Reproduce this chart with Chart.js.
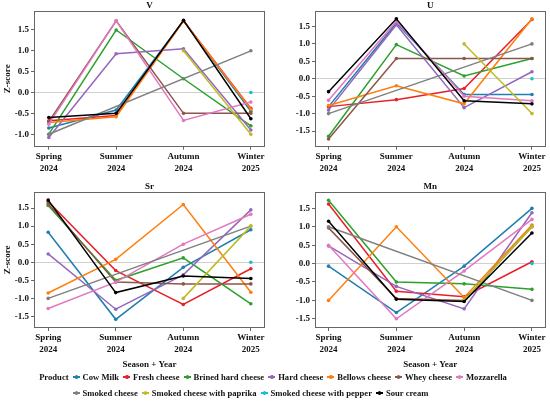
<!DOCTYPE html>
<html>
<head>
<meta charset="utf-8">
<script src="https://cdn.jsdelivr.net/npm/chart.js@4/dist/chart.umd.min.js"></script>
<style>
  html,body{margin:0;padding:0;background:#fff;}
  body{width:550px;height:402px;position:relative;overflow:hidden;font-family:"Liberation Serif","Times New Roman",serif;}
  .panel{position:absolute;}
  #legend{position:absolute;left:0;top:369px;width:550px;display:flex;justify-content:center;align-items:flex-start;font-weight:bold;font-size:8.6px;color:#111;}
  #legend .ttl{margin-right:4px;line-height:16px;}
  #legend .row{display:flex;line-height:16px;height:16px;}
  #legend .item{display:flex;align-items:center;margin-right:4px;}
  #legend .key{position:relative;width:7px;height:1.5px;margin-right:3px;}
  #legend .key i{position:absolute;left:2px;top:-1px;width:3.4px;height:3.4px;border-radius:50%;background:inherit;}
</style>
</head>
<body>
<div class="panel" style="left:0;top:0;width:275px;height:180px"><canvas id="cV"></canvas></div>
<div class="panel" style="left:275px;top:0;width:275px;height:180px"><canvas id="cU"></canvas></div>
<div class="panel" style="left:0;top:181px;width:275px;height:189px"><canvas id="cSr"></canvas></div>
<div class="panel" style="left:275px;top:181px;width:275px;height:189px"><canvas id="cMn"></canvas></div>
<div id="legend"></div>
<script>
// ---- data ----
const seasons = [["Spring","2024"],["Summer","2024"],["Autumn","2024"],["Winter","2025"]];
const products = ["Cow Milk","Fresh cheese","Brined hard cheese","Hard cheese","Bellows cheese","Whey cheese","Mozzarella","Smoked cheese","Smoked cheese with paprika","Smoked cheese with pepper","Sour cream"];
const productColors = ["#1f7fae","#e8202a","#2ca02c","#9467bd","#ff7f0e","#8c564b","#e377c2","#7f7f7f","#bcbd22","#17becf","#000000"];

// rows follow products order; columns follow seasons order
const vValues = [
  [-0.85,-0.42, 1.72,-0.45],
  [-0.68,-0.55, 1.72,-0.38],
  [-1.00, 1.50, 0.33,-0.80],
  [-1.08, 0.93, 1.05,-0.90],
  [-0.72,-0.58, 1.72,-0.40],
  [-0.70, 1.72,-0.50,-0.50],
  [-0.76, 1.72,-0.67,-0.23],
  [-1.00, null, null, 1.00],
  [ null, null, 1.00,-1.00],
  [ null, null, null, 0.00],
  [-0.60,-0.50, 1.73,-0.63]
];
const uValues = [
  [-0.80, 1.60,-0.45,-0.45],
  [-0.80,-0.60,-0.28, 1.70],
  [-1.65, 0.98, 0.08, 0.58],
  [-0.90, 1.55,-0.83, 0.20],
  [-0.77,-0.20,-0.72, 1.72],
  [-1.73, 0.58, 0.58, 0.58],
  [-0.62, 1.65,-0.50,-0.63],
  [-1.00, null, null, 1.00],
  [ null, null, 1.00,-1.00],
  [ null, null, null, 0.00],
  [-0.37, 1.72,-0.63,-0.72]
];
const srValues = [
  [ 0.83,-1.58,-0.14, 0.90],
  [ 1.68,-0.23,-1.17,-0.18],
  [ 1.57,-0.50, 0.12,-1.15],
  [ 0.23,-1.30,-0.35, 1.45],
  [-0.85, 0.08, 1.60,-0.83],
  [ 1.62,-0.55,-0.60,-0.60],
  [-1.28,-0.55, 0.50, 1.33],
  [-1.00, null, null, 1.00],
  [ null, null,-1.00, 1.00],
  [ null, null, null, 0.00],
  [ 1.72,-0.84,-0.38,-0.45]
];
const mnValues = [
  [-0.07,-1.33,-0.07, 1.50],
  [ 1.62,-0.75,-0.90, 0.05],
  [ 1.72,-0.50,-0.55,-0.70],
  [ 0.48,-0.62,-1.23, 1.38],
  [-1.00, 1.00,-0.92, 1.05],
  [ 0.97,-0.95,-1.00, 1.00],
  [ 0.50,-1.50,-0.20, 1.20],
  [ 1.00, null, null,-1.00],
  [ null, null,-1.00, 1.00],
  [ null, null, null, 0.00],
  [ 1.15,-0.97,-1.03, 0.83]
];
const yTicks = [-1.5,-1.0,-0.5,0.0,0.5,1.0,1.5];

// ---- drawing ----
const FONT = {family:'"Liberation Serif","Times New Roman",serif', weight:'bold', size:9};
const frame = {
  id:'frame',
  afterDraw(chart){
    const a = chart.chartArea, c = chart.ctx;
    c.save(); c.strokeStyle = '#666'; c.lineWidth = 1;
    c.strokeRect(Math.round(a.left)+0.5, Math.round(a.top)+0.5, Math.round(a.right-a.left)-1, Math.round(a.bottom-a.top)-1);
    c.restore();
  }
};

function makeChart(id, title, values, opts){
  const datasets = values.map((row,i)=>({
    label: products[i],
    data: row.map((v,j)=>({x:j+1,y:v})),
    borderColor: productColors[i],
    backgroundColor: productColors[i],
    borderWidth: 1.5,
    pointRadius: 1.8,
    pointBorderWidth: 0,
    spanGaps: true,
    order: values.length - i
  }));
  new Chart(document.getElementById(id), {
    type:'line',
    data:{datasets},
    plugins:[frame],
    options:{
      responsive:true, maintainAspectRatio:false, animation:false,
      layout:{padding:{right:opts.padRight, top:0, bottom:0, left:0}},
      plugins:{
        legend:{display:false}, tooltip:{enabled:false},
        title:{display:true, text:title, fullSize:false, color:'#111', font:{...FONT, size:9}, padding:{top:0,bottom:0}}
      },
      scales:{
        x:{
          type:'linear', min:opts.xMin, max:opts.xMax,
          afterBuildTicks(s){ s.ticks = seasons.map((_,j)=>({value:j+1})); },
          afterFit(s){ s.height = opts.xHeight; },
          ticks:{ color:'#111', font:{...FONT, lineHeight:1.3}, padding:1, maxRotation:0, autoSkip:false,
                  callback:(v)=>seasons[v-1] },
          grid:{ drawOnChartArea:false, drawTicks:true, tickLength:3, tickColor:'#666' },
          border:{ display:false },
          title:{ display:opts.xTitle, text:'Season + Year', color:'#111', font:{...FONT}, padding:{top:2,bottom:0} }
        },
        y:{
          type:'linear', min:opts.yMin, max:opts.yMax,
          afterBuildTicks(s){ s.ticks = yTicks.filter(t=>t>=opts.yMin && t<=opts.yMax).map(t=>({value:t})); },
          afterFit(s){ s.width = opts.yWidth; },
          ticks:{ color:'#111', font:{...FONT}, padding:2, callback:(v)=>v.toFixed(1) },
          grid:{ drawTicks:true, tickLength:3, tickColor:'#666', lineWidth:1,
                 color:(c)=> (c.tick && Math.abs(c.tick.value)<1e-9) ? '#d0d0d0' : 'rgba(0,0,0,0)' },
          border:{ display:false },
          title:{ display:opts.yTitle, text:'Z-score', color:'#111', font:{...FONT}, padding:{top:2,bottom:0} }
        }
      }
    }
  });
}

makeChart('cV','V',vValues,{padRight:10, yWidth:34, xHeight:33.3, yMin:-1.30, yMax:1.96, xMin:0.78, xMax:4.21, xTitle:false, yTitle:true});
makeChart('cU','U',uValues,{padRight:4.5, yWidth:40, xHeight:33.3, yMin:-1.95, yMax:1.95, xMin:0.8, xMax:4.2, xTitle:false, yTitle:false});
makeChart('cSr','Sr',srValues,{padRight:10, yWidth:34, xHeight:42, yMin:-1.82, yMax:1.95, xMin:0.79, xMax:4.21, xTitle:true, yTitle:true});
makeChart('cMn','Mn',mnValues,{padRight:4.5, yWidth:40, xHeight:42, yMin:-1.75, yMax:1.95, xMin:0.8, xMax:4.2, xTitle:true, yTitle:false});

// ---- legend (HTML text) ----
const lg = document.getElementById('legend');
const ttl = document.createElement('div'); ttl.className='ttl'; ttl.textContent='Product'; lg.appendChild(ttl);
const block = document.createElement('div'); lg.appendChild(block);
const rows = [products.slice(0,7), products.slice(7)];
let k = 0;
rows.forEach(r=>{
  const row = document.createElement('div'); row.className='row';
  r.forEach(name=>{
    const it = document.createElement('div'); it.className='item';
    const key = document.createElement('span'); key.className='key'; key.style.background = productColors[k];
    key.appendChild(document.createElement('i'));
    const tx = document.createElement('span'); tx.textContent = name;
    it.appendChild(key); it.appendChild(tx); row.appendChild(it); k++;
  });
  block.appendChild(row);
});
</script>
</body>
</html>
